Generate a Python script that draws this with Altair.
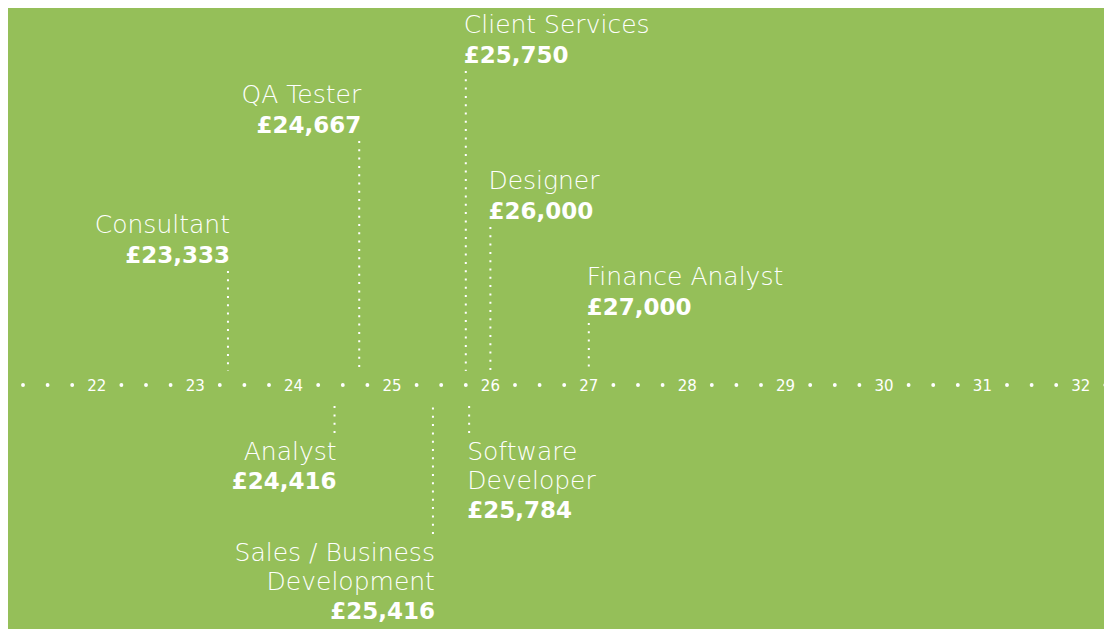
import altair as alt
import pandas as pd

BG = "#95bf59"
NAME_FONT = "DejaVu Sans"
VALUE_FONT = "DejaVu Sans"

# ---- data ----
job_titles = [
    "Consultant",
    "QA Tester",
    "Client Services",
    "Designer",
    "Finance Analyst",
    "Analyst",
    "Sales / Business\nDevelopment",
    "Software\nDeveloper",
]
salaries = [23333, 24667, 25750, 26000, 27000, 24416, 25416, 25784]

# axis: salary in thousands of pounds
tick_values = [22, 23, 24, 25, 26, 27, 28, 29, 30, 31, 32]
minor_dots = [21.25, 21.5, 21.75, 22.25, 22.5, 22.75, 23.25, 23.5, 23.75,
              24.25, 24.5, 24.75, 25.25, 25.5, 25.75, 26.25, 26.5, 26.75,
              27.25, 27.5, 27.75, 28.25, 28.5, 28.75, 29.25, 29.5, 29.75,
              30.25, 30.5, 30.75, 31.25, 31.5, 31.75, 32.25]

# ---- layout (label placement, px above the axis; negative = below) ----
stem_end = [114, 244, 314, 158, 62, -48, -149, -48]
label_align = ["right", "right", "left", "left", "left", "right", "right", "left"]
STEM_GAP_UP = 14
STEM_GAP_DOWN = -20
LINE_H = 28.5

stems, texts = [], []
for name, sal, end, al in zip(job_titles, salaries, stem_end, label_align):
    x = sal / 1000.0
    up = end > 0
    stems.append({"x": x, "y": end, "y2": STEM_GAP_UP if up else STEM_GAP_DOWN})
    lines = name.split("\n")
    value_txt = "£{:,}".format(sal)
    if up:
        vb = end + 8
        n = len(lines)
        for k, ln in enumerate(lines):
            texts.append({"x": x, "y": vb + 29 * (n - k) + 1, "t": ln, "kind": "name", "al": al})
        texts.append({"x": x, "y": vb, "t": value_txt, "kind": "value", "al": al})
    else:
        first = end - 27
        for k, ln in enumerate(lines):
            texts.append({"x": x, "y": first - LINE_H * k, "t": ln, "kind": "name", "al": al})
        texts.append({"x": x, "y": first - LINE_H * len(lines) - 0.5, "t": value_txt, "kind": "value", "al": al})

stems_df = pd.DataFrame(stems)
texts_df = pd.DataFrame(texts)
ticks_df = pd.DataFrame({"x": tick_values, "y": [0] * len(tick_values),
                         "t": [str(v) for v in tick_values]})
dots_df = pd.DataFrame({"x": minor_dots, "y": [0] * len(minor_dots)})

W, H = 1096, 621
xs = alt.Scale(domain=[21.0976, 22 + (W - 88.8) / 98.4], nice=False, zero=False)
ys = alt.Scale(domain=[377 - H, 377], nice=False, zero=False)
X = alt.X("x:Q", scale=xs, axis=None)
Y = alt.Y("y:Q", scale=ys, axis=None)

stem_layer = alt.Chart(stems_df).mark_rule(
    color="white", strokeWidth=2, strokeDash=[2, 6.3]
).encode(x=X, y=Y, y2="y2:Q")

dot_layer = alt.Chart(dots_df).mark_point(
    filled=True, color="white", size=15, opacity=1, shape="circle"
).encode(x=X, y=Y)

tick_layer = alt.Chart(ticks_df).mark_text(
    color="white", font="DejaVu Sans", fontSize=15, fontWeight=400,
    align="center", baseline="middle", dy=1
).encode(x=X, y=Y, text="t:N")

layers = [stem_layer, dot_layer, tick_layer]
for al, dx in (("left", -2), ("right", 2)):
    for kind, font, weight, size in (("name", NAME_FONT, 200, 25),
                                      ("value", VALUE_FONT, 700, 23)):
        layers.append(
            alt.Chart(texts_df).transform_filter(
                (alt.datum.al == al) & (alt.datum.kind == kind)
            ).mark_text(
                color="white", font=font, fontSize=size, fontWeight=weight,
                align=al, baseline="alphabetic", dx=dx
            ).encode(x=X, y=Y, text="t:N")
        )

chart = alt.layer(*layers).properties(
    width=W, height=H,
    autosize=alt.AutoSizeParams(type="none"),
    padding=0,
    background=BG,
).configure_view(stroke=None)

chart.save("out.html", embed_options={"renderer": "svg", "actions": False})
